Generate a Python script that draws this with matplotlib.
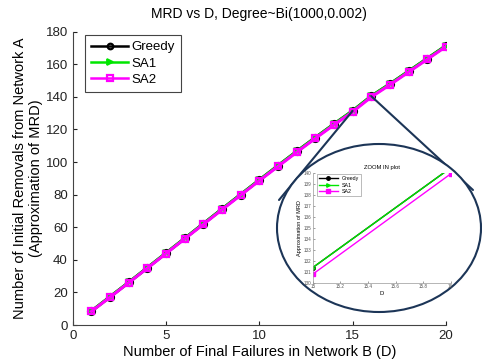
import numpy as np
import matplotlib
matplotlib.use("Agg")
import matplotlib.pyplot as plt
from matplotlib.patches import Ellipse, ConnectionPatch

plt.rcParams['font.family'] = ['Liberation Sans', 'DejaVu Sans']

# 数据
d = list(range(1, 21))
greedy = [8.6, 17.4, 26.2, 35.2, 44.2, 53.2, 62.2, 71.2, 80.1, 89.0,
          97.8, 106.5, 115.0, 123.3, 131.4, 140.45, 147.9, 155.7, 163.5, 171.3]
sa1 = [8.6, 17.4, 26.2, 35.2, 44.2, 53.2, 62.2, 71.2, 80.1, 89.0,
       97.8, 106.5, 115.0, 123.3, 131.4, 140.45, 147.9, 155.7, 163.5, 171.3]
sa2 = [8.4, 17.1, 26.0, 34.9, 43.9, 52.9, 61.8, 70.8, 79.7, 88.6,
       97.3, 106.0, 114.5, 122.8, 130.8, 139.9, 147.4, 155.2, 163.0, 170.8]
labels = ['Greedy', 'SA1', 'SA2']
x_ticks = [0, 5, 10, 15, 20]
y_ticks = [0, 20, 40, 60, 80, 100, 120, 140, 160, 180]
zoom_x_ticks = [15, 15.2, 15.4, 15.6, 15.8, 16]
zoom_y_ticks = list(range(130, 141))

green = '#00e600'
magenta = '#ff00ff'
navy = '#1c3557'

fig = plt.figure(figsize=(4.82, 3.6), dpi=100)
ax = fig.add_axes([0.151, 0.097, 0.774, 0.815])

ax.plot(d, greedy, color='black', lw=2.2, marker='o', ms=5, mfc='none', mew=1.6, label=labels[0])
ax.plot(d, sa1, color=green, lw=2.2, marker='>', ms=5, mfc=green, mew=1.3, label=labels[1])
ax.plot(d, sa2, color=magenta, lw=2.2, marker='s', ms=4.5, mfc='none', mew=1.6, label=labels[2])

ax.set_xlim(0, 20)
ax.set_ylim(0, 180)
ax.set_xticks(x_ticks)
ax.set_yticks(y_ticks)
ax.tick_params(direction='in', length=3, labelsize=9.5, colors='#222222')
for s in ['top', 'right']:
    ax.spines[s].set_visible(False)
for s in ['left', 'bottom']:
    ax.spines[s].set_color('#444444')
ax.set_title('MRD vs D, Degree~Bi(1000,0.002)', fontsize=10, pad=10)
ax.set_xlabel('Number of Final Failures in Network B (D)', fontsize=10.5, labelpad=2)
ax.set_ylabel('Number of Initial Removals from Network A\n(Approximation of MRD)', fontsize=10.5, labelpad=2)

leg = ax.legend(loc='upper left', bbox_to_anchor=(0.033, 0.988), fontsize=9.5, fancybox=False,
                edgecolor='#444444', handlelength=2.8, borderpad=0.45, labelspacing=0.3,
                handletextpad=0.25, framealpha=1, borderaxespad=0)
leg.get_frame().set_linewidth(0.8)
for h in leg.get_lines():
    h.set_linewidth(1.8)
    h.set_markersize(4)

# 放大区域的连线和椭圆
cx, cy, ew, eh = 379 / 482, 1 - 228 / 360, 204 / 482, 168 / 360
con1 = ConnectionPatch(xyA=(15, greedy[14]), coordsA=ax.transData,
                       xyB=(279 / 482, 1 - 200 / 360), coordsB=fig.transFigure,
                       color=navy, lw=1.5, zorder=5)
con2 = ConnectionPatch(xyA=(16, greedy[15]), coordsA=ax.transData,
                       xyB=(473 / 482, 1 - 190 / 360), coordsB=fig.transFigure,
                       color=navy, lw=1.5, zorder=5)
ax.add_artist(con1)
ax.add_artist(con2)
ell = Ellipse((cx, cy), ew, eh, transform=fig.transFigure, facecolor='white',
              edgecolor=navy, lw=1.5, zorder=6, clip_on=False)
ax.add_artist(ell)

# 内嵌放大图
axin = fig.add_axes([0.649, 0.214, 0.286, 0.306])
axin.plot(d, greedy, color='black', lw=1, marker='o', ms=2.5, label=labels[0])
axin.plot(d, sa1, color=green, lw=1, marker='>', ms=2.5, label=labels[1])
axin.plot(d, sa2, color=magenta, lw=1, marker='s', ms=2.5, label=labels[2])
axin.set_xlim(15, 16)
axin.set_ylim(130, 140)
axin.set_xticks(zoom_x_ticks)
axin.set_xticklabels(['15', '15.2', '15.4', '15.6', '15.8', '16'])
axin.set_yticks(zoom_y_ticks)
axin.tick_params(direction='in', length=1.5, width=0.4, labelsize=3.3, colors='#555555', pad=1)
for s in ['top', 'right']:
    axin.spines[s].set_visible(False)
for s in ['left', 'bottom']:
    axin.spines[s].set_color('#999999')
    axin.spines[s].set_linewidth(0.5)
axin.set_title('ZOOM IN plot', fontsize=4.2, pad=3)
axin.set_xlabel('D', fontsize=4.2, labelpad=1)
axin.set_ylabel('Approximation of MRD', fontsize=4, labelpad=1)
lg2 = axin.legend(loc='upper left', bbox_to_anchor=(0.03, 0.99), fontsize=3.8, fancybox=False,
                  edgecolor='#888888', handlelength=3.5, borderpad=0.4, labelspacing=0.3,
                  framealpha=1, borderaxespad=0)
lg2.get_frame().set_linewidth(0.4)

fig.savefig('out.png', dpi=100)
